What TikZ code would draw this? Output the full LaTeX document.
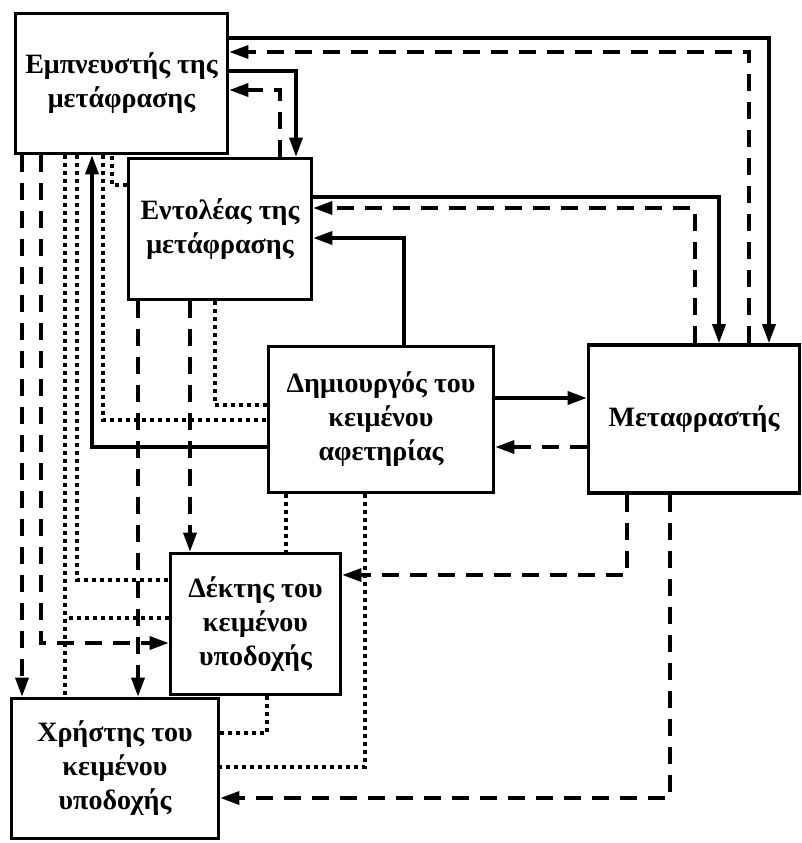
\documentclass[tikz,border=0pt]{standalone}
\usepackage{fontspec}
\setmainfont{Liberation Serif}
\usetikzlibrary{arrows.meta}
\begin{document}
\begin{tikzpicture}[x=1pt,y=-1pt,
  box/.style={draw,line width=3.6pt,rectangle,inner sep=0pt,fill=white,align=center,
    font=\fontsize{28}{34}\selectfont\bfseries},
  conn/.style={line width=3.4pt},
  sol/.style={conn},
  dsh/.style={conn,dash pattern=on 17pt off 11pt},
  dot/.style={conn,dash pattern=on 3.6pt off 4.4pt},
  tip/.style={-{Triangle[length=19pt,width=13pt]}}
]
\useasboundingbox (0,0) rectangle (802,843);
\node[box,minimum width=212pt,minimum height=140pt] (A) at (121.5,83.5) {Εμπνευστής της\\μετάφρασης};
\node[box,minimum width=183pt,minimum height=141pt] (B) at (220,229) {Εντολέας της\\μετάφρασης};
\node[box,minimum width=225pt,minimum height=146pt] (C) at (381,419.5) {Δημιουργός του\\κειμένου\\αφετηρίας};
\node[box,minimum width=211pt,minimum height=148pt] (D) at (694,419) {Μεταφραστής};
\node[box,minimum width=170pt,minimum height=141pt] (E) at (255.5,624) {Δέκτης του\\κειμένου\\υποδοχής};
\node[box,minimum width=207pt,minimum height=140pt] (F) at (115,768.5) {Χρήστης του\\κειμένου\\υποδοχής};

% top connections
\draw[sol,tip] (C.north -| 404,0) |- (B.east |- 0,238);
\draw[sol,tip] (B.east |- 0,197) -| (D.north -| 719,0);
\draw[dsh,tip] (D.north -| 695,0) |- (B.east |- 0,208);
\draw[sol,tip] (A.east |- 0,38) -| (D.north -| 769,0);
\draw[dsh,tip] (D.north -| 749,0) |- (A.east |- 0,52);
\draw[sol,tip] (A.east |- 0,71) -| (B.north -| 296,0);
\draw[dsh,tip] (B.north -| 280,0) |- (A.east |- 0,90);

% left side
\draw[dsh,tip] (A.south -| 22,0) -- (F.north -| 22,0);
\draw[dsh,tip] (A.south -| 41,0) |- (E.west |- 0,643);
\draw[dot] (A.south -| 65,0) -- (F.north -| 65,0);
\draw[dot] (E.west |- 0,618) -- (65,618);
\draw[dot] (A.south -| 77,0) |- (E.west |- 0,580);
\draw[sol,tip] (C.west |- 0,447) -| (A.south -| 92,0);
\draw[dot] (A.south -| 103,0) |- (C.west |- 0,420);
\draw[dot] (B.west |- 0,185) -| (A.south -| 112,0);
\draw[dsh,tip] (B.south -| 138,0) -- (F.north -| 138,0);
\draw[dsh,tip] (B.south -| 190,0) -- (E.north -| 190,0);
\draw[dot] (B.south -| 215,0) |- (C.west |- 0,405);

% C <-> D
\draw[sol,tip] (C.east |- 0,398) -- (D.west |- 0,398);
\draw[dsh,tip] (D.west |- 0,447) -- (C.east |- 0,447);

% bottom
\draw[dot] (C.south -| 286,0) -- (E.north -| 286,0);
\draw[dot] (C.south -| 365,0) |- (F.east |- 0,767);
\draw[dot] (E.south -| 267,0) |- (F.east |- 0,733);
\draw[dsh,tip] (D.south -| 627,0) |- (E.east |- 0,575);
\draw[dsh,tip] (D.south -| 670,0) |- (F.east |- 0,798);
\end{tikzpicture}
\end{document}
